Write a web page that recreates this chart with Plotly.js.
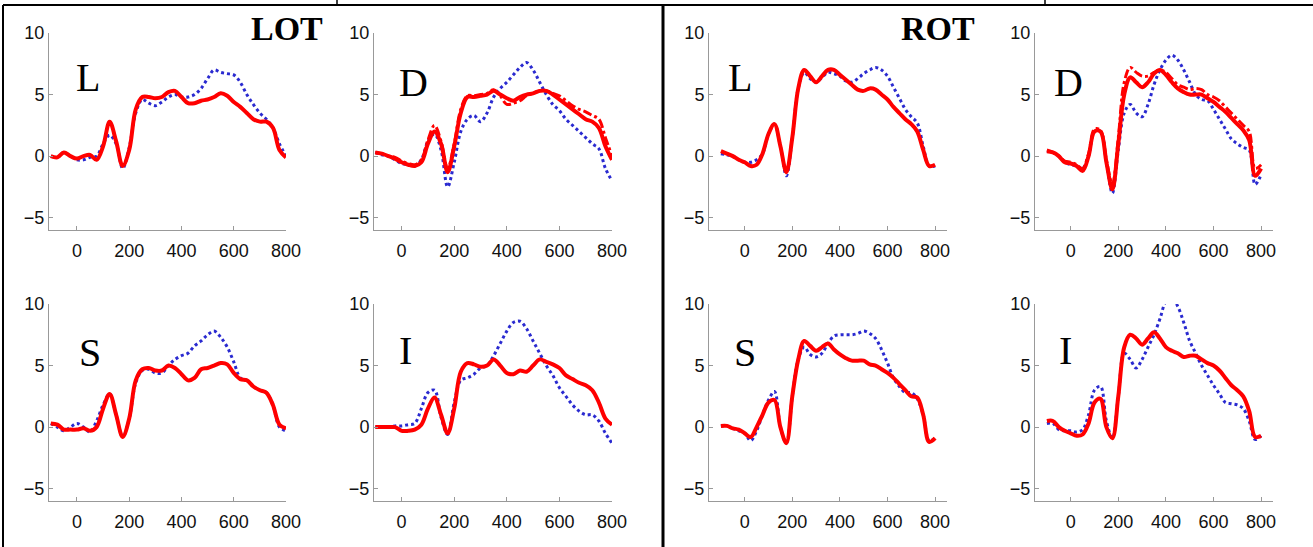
<!DOCTYPE html>
<html><head><meta charset="utf-8">
<script src="https://cdn.plot.ly/plotly-3.0.1.min.js"></script>
<style>body{margin:0;background:#fff}#c{width:1313px;height:547px}</style>
</head><body><div id="c"></div>
<script>
const time = [-100,-75,-50,-25,0,25,50,75,100,125,150,175,200,225,250,275,300,325,350,375,400,425,450,475,500,525,550,575,600,625,650,675,700,725,750,775,800];
const xTicks = [0,200,400,600,800];
const yTicks = [-5,0,5,10];
const panelLabels = ["L","D","L","D","S","I","S","I"];
const groupLabels = ["LOT","ROT"];

// LOT L
const lotL_red  = [0,-0.1,0.3,0,-0.2,0,0.1,-0.3,0.8,2.8,1.2,-0.8,0.5,3.8,4.8,4.8,4.7,4.8,5.2,5.3,4.8,4.3,4.3,4.5,4.6,4.8,5.1,4.9,4.4,4.0,3.5,3.0,2.8,2.8,2.3,0.5,-0.1];
const lotL_blue = [0,-0.1,0.3,0,-0.3,-0.3,-0.1,0,1.0,1.7,1.0,-1.0,0.7,3.5,4.6,4.3,4.1,4.4,4.8,5.0,4.8,4.8,5.0,5.5,6.3,7.0,6.8,6.7,6.6,6.0,5.0,4.2,3.5,3.0,2.3,1.0,0];
// LOT D
const lotD_red  = [0.3,0.2,0,-0.2,-0.5,-0.7,-0.8,-0.5,1.0,2.0,1.0,-1.3,0.8,3.5,4.8,4.8,4.9,5.0,5.3,5.0,4.7,4.5,4.8,5.0,5.1,5.3,5.3,5.0,4.6,4.2,3.8,3.4,3.0,2.8,2.3,0.8,-0.3];
const lotD_red2 = [0.3,0.2,0,-0.1,-0.4,-0.6,-0.7,-0.3,1.3,2.5,1.2,-1.0,1.0,3.8,4.9,4.9,5.0,5.1,5.4,4.9,4.2,4.3,4.5,4.9,5.1,5.3,5.3,5.1,4.9,4.5,4.1,3.8,3.6,3.3,3.0,1.5,0];
const lotD_blue = [0.3,0.1,0,-0.3,-0.6,-0.7,-0.8,-0.3,1.2,1.8,0.5,-2.5,-0.5,2.0,3.0,3.3,2.8,3.5,4.8,5.5,6.0,6.6,7.2,7.6,7.0,6.0,5.0,4.2,3.7,3.0,2.5,2.0,1.5,1.0,0.6,-1.0,-2.0];
// ROT L
const rotL_red  = [0.4,0.2,0,-0.3,-0.5,-0.8,-0.7,0.2,1.8,2.6,0.8,-1.3,1.5,5.5,7.0,6.5,6.0,6.5,7.0,7.0,6.6,6.2,5.8,5.4,5.3,5.5,5.4,5.0,4.6,4.0,3.5,3.0,2.6,2.0,0.5,-0.8,-0.7];
const rotL_blue = [0.2,0.1,0,-0.3,-0.5,-0.5,-0.3,0.2,1.8,2.6,0.8,-1.6,1.5,5.5,6.8,6.3,6.0,6.4,6.8,6.7,6.5,6.1,6.0,6.3,6.7,7.0,7.2,7.0,6.5,5.6,4.7,3.8,3.2,2.7,0.8,-0.8,-0.8];
// ROT D
const rotD_red  = [0.4,0.3,0,-0.5,-0.6,-0.8,-1.2,0,2.0,2.0,-0.5,-2.7,1.0,5.0,6.4,6.0,5.6,6.0,6.7,7.0,6.6,6.0,5.5,5.2,5.0,5.0,5.0,4.7,4.4,4.0,3.6,3.1,2.6,2.1,1.3,-1.6,-1.0];
const rotD_red2 = [0.5,0.3,0,-0.4,-0.5,-0.7,-1.0,0.2,2.2,2.1,-0.3,-2.3,1.5,6.0,7.2,6.8,6.5,6.5,6.8,7.0,6.8,6.3,5.8,5.6,5.4,5.5,5.4,5.0,4.8,4.5,4.0,3.5,3.0,2.5,2.0,-1.0,-0.7];
const rotD_blue = [0.4,0.3,0,-0.5,-0.7,-0.8,-1.0,0,2.0,2.0,-0.5,-3.0,0.5,3.5,4.2,3.5,3.2,4.2,5.8,7.0,7.8,8.2,7.8,7.0,6.0,5.0,4.6,4.5,3.8,3.0,2.2,1.4,1.0,0.7,0.5,-2.3,-1.5];
// LOT S
const lotS_red  = [0.3,0.2,-0.2,-0.2,-0.2,-0.1,-0.3,0,1.5,2.7,1.0,-0.8,0.7,3.8,4.7,4.8,4.6,4.6,5.0,4.8,4.3,3.8,4.0,4.7,4.8,5.0,5.2,5.1,4.4,3.9,3.8,3.3,3.0,2.8,1.8,0.2,-0.1];
const lotS_blue = [0.3,0,-0.3,0,0.3,0,-0.4,0.5,1.8,2.7,1.0,-0.8,0.7,3.6,4.6,4.7,4.4,4.4,5.0,5.5,5.8,6.0,6.6,7.0,7.5,7.8,7.3,6.5,5.3,4.0,3.8,3.3,3.0,2.8,1.8,0,-0.3];
// LOT I
const lotI_red  = [0,0,0,0,-0.3,-0.3,-0.2,0.2,1.5,2.4,1.0,-0.5,1.5,4.5,5.2,5.1,4.9,5.0,5.5,5.0,4.4,4.3,4.6,4.5,5.0,5.5,5.3,5.1,4.8,4.2,3.9,3.6,3.4,3.0,2.0,0.7,0.2];
const lotI_blue = [0,0,0,0.1,0.1,0.2,0.3,1.5,2.8,3.0,0.8,-0.6,2.0,3.8,4.0,4.3,4.8,5.0,5.8,6.8,7.8,8.5,8.6,8.0,7.0,6.0,5.0,4.2,3.2,2.5,1.8,1.3,1.0,1.0,0.5,-0.5,-1.3];
// ROT S
const rotS_red  = [0.1,0.1,-0.1,-0.2,-0.5,-0.8,0.0,1.0,2.0,2.2,0,-1.3,2.5,5.5,7.0,6.6,6.2,6.5,6.8,6.3,5.9,5.6,5.4,5.4,5.4,5.1,5.0,4.7,4.4,4.0,3.5,3.0,2.5,2.4,1.0,-1.2,-0.9];
const rotS_blue = [0.1,0.1,-0.1,-0.3,-0.5,-1.1,-0.3,1.0,2.2,2.9,0,-1.3,2.5,5.5,6.5,5.9,5.7,6.0,6.8,7.4,7.5,7.5,7.5,7.6,7.8,7.6,7.2,6.3,5.2,4.0,3.3,2.8,2.8,2.3,1.0,-1.1,-0.9];
// ROT I
const rotI_red  = [0.5,0.5,0,-0.3,-0.5,-0.7,-0.6,0.3,2.0,2.3,0,-0.9,2.5,6.5,7.5,7.2,6.7,7.2,7.7,7.2,6.5,6.2,6.0,5.7,5.8,5.8,5.5,5.2,5.0,4.6,4.0,3.4,3.0,2.5,1.3,-0.8,-0.7];
const rotI_blue = [0.3,0.3,-0.2,-0.3,-0.3,-0.4,-0.2,1.0,3.0,3.3,0.5,-0.9,2.5,6.0,5.5,4.8,5.5,6.5,7.5,8.8,10.2,10.5,9.8,8.5,7.0,6.0,5.0,4.2,3.4,2.7,2.0,1.9,1.8,1.5,0.5,-1.0,-0.7];

const panels = [
  [lotL_red, null, lotL_blue], [lotD_red, lotD_red2, lotD_blue],
  [rotL_red, null, rotL_blue], [rotD_red, rotD_red2, rotD_blue],
  [lotS_red, null, lotS_blue], [lotI_red, null, lotI_blue],
  [rotS_red, null, rotS_blue], [rotI_red, null, rotI_blue]
];
const W=1313,H=547;
const xpx=[[49,286],[374,612],[709,947],[1035,1273]];
const ranges=[[-107,800],[-105,800],[-150,850],[-150,850]];
const ypx=[[33,230],[304,501]];
const traces=[]; const layout={width:W,height:H,margin:{l:0,r:0,t:0,b:0},showlegend:false,
  paper_bgcolor:'#fff',plot_bgcolor:'#fff',shapes:[],annotations:[]};
const labelPos=[[88,77],[413,82],[740,77],[1068,82],[90,352],[405,350],[745,352],[1065,350]];
const tf={family:'Liberation Sans, Arial',size:18,color:'#111'};
panels.forEach((p,i)=>{
  const col=i%4,row=Math.floor(i/4),n=i+1;
  const xa='x'+(n===1?'':n), ya='y'+(n===1?'':n);
  layout['xaxis'+(n===1?'':n)]={domain:[xpx[col][0]/W,xpx[col][1]/W],range:ranges[col],anchor:ya,
    tickvals:xTicks,ticks:'inside',ticklen:4,tickcolor:'#999',showline:true,linecolor:'#999',linewidth:1,
    showgrid:false,zeroline:false,tickfont:tf,ticklabelstandoff:4};
  layout['yaxis'+(n===1?'':n)]={domain:[1-ypx[row][1]/H,1-ypx[row][0]/H],range:[-6,10],anchor:xa,
    tickvals:yTicks,ticks:'inside',ticklen:4,tickcolor:'#999',showline:true,linecolor:'#999',linewidth:1,
    showgrid:false,zeroline:false,tickfont:tf};
  traces.push({x:time,y:p[2],xaxis:xa,yaxis:ya,mode:'lines',line:{color:'#2a2ad0',width:3,dash:'dot',shape:'spline'}});
  if(p[1]) traces.push({x:time,y:p[1],xaxis:xa,yaxis:ya,mode:'lines',line:{color:'#ff0000',width:3,dash:'dashdot',shape:'spline'}});
  traces.push({x:time,y:p[0],xaxis:xa,yaxis:ya,mode:'lines',line:{color:'#ff0000',width:4,shape:'spline'}});
  layout.annotations.push({xref:'paper',yref:'paper',x:labelPos[i][0]/W,y:1-labelPos[i][1]/H,text:panelLabels[i],
    xanchor:'center',yanchor:'middle',showarrow:false,font:{family:'Liberation Serif, Times New Roman',size:40,color:'#000'}});
});
[[287,groupLabels[0]],[938,groupLabels[1]]].forEach(g=>layout.annotations.push({xref:'paper',yref:'paper',
  x:g[0]/W,y:1-29/H,xanchor:'center',yanchor:'middle',text:'<b>'+g[1]+'</b>',showarrow:false,
  font:{family:'Liberation Serif, Times New Roman',size:34,color:'#000'}}));
const L=(x0,y0,x1,y1,w)=>layout.shapes.push({type:'line',xref:'paper',yref:'paper',x0:x0/W,x1:x1/W,y0:1-y0/H,y1:1-y1/H,line:{color:'#000',width:w}});
L(3,5,1313,5,2); L(337,0,337,5,1.5); L(1045,0,1045,5,1.5);
L(3,5,3,547,2); L(663,5,663,547,3);
Plotly.newPlot('c',traces,layout,{staticPlot:true});
</script></body></html>
